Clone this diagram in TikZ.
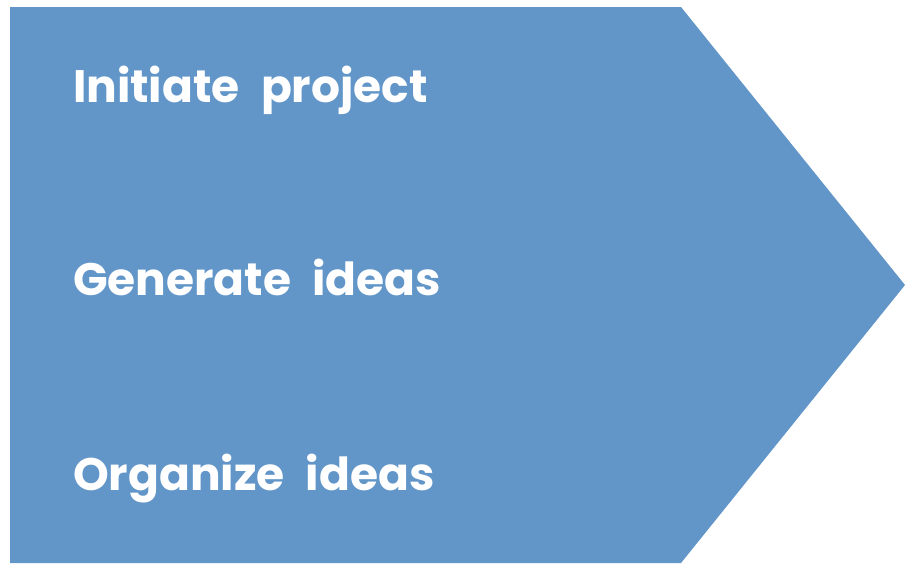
\documentclass[tikz,border=0pt]{standalone}
\usepackage{fontspec}
\setmainfont{Poppins}[WordSpace=2.2]
\usetikzlibrary{positioning}
\definecolor{stepblue}{RGB}{98,150,201}

\begin{document}
\begin{tikzpicture}[
            x = 1pt, y = -1pt, % pixel like units, y going down
            node distance = 193pt, % distance between the lines
            every node/.style = {inner sep = 0pt, outer sep = 0pt},
            steptext/.style = {
                text = white,
                font = \fontsize{45.5}{50}\selectfont\bfseries,
                anchor = base west
            }
        ]

        \useasboundingbox (0, 0) rectangle (905, 563);

        % chevron shape
        \fill[stepblue] (10, 7) -- (681, 7) -- (905, 285) -- (681, 563)
            -- (10, 563) -- cycle;

        \node[steptext] (initiate) at (73, 102) {Initiate project};
        \node[steptext] (generate) [below = of initiate.base west, anchor = base west] {Generate ideas};
        \node[steptext] (organize) [below = 195pt of generate.base west, anchor = base west] {Organize ideas};

    \end{tikzpicture}
\end{document}
